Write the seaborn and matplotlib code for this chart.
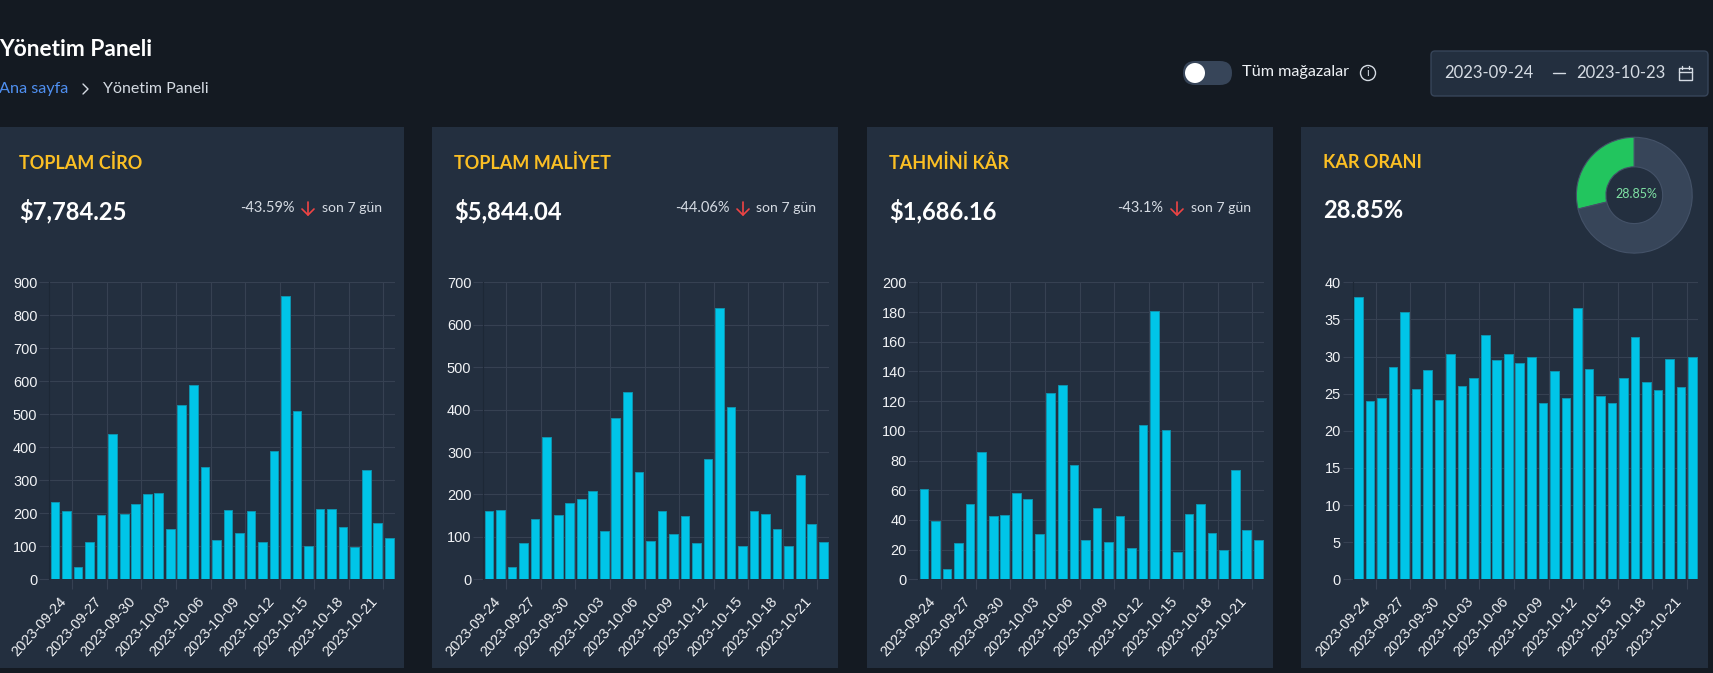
import numpy as np
import pandas as pd
import matplotlib
matplotlib.use("Agg")
import matplotlib.pyplot as plt
from matplotlib.patches import Rectangle, FancyBboxPatch, Circle
from matplotlib.transforms import ScaledTranslation
import seaborn as sns

dates = [str(d.date()) for d in pd.date_range("2023-09-24", "2023-10-23")]

ciro = [233, 208, 36, 114, 194, 441, 199, 229, 260, 263, 153, 527, 588, 340, 118,
        210, 139, 207, 114, 389, 860, 509, 101, 212, 212, 158, 98, 330, 170, 126]
maliyet = [160, 164, 28, 86, 141, 335, 151, 180, 190, 207, 113, 380, 441, 253, 90,
           160, 107, 150, 86, 284, 639, 407, 79, 161, 154, 119, 79, 246, 130, 89]
kar = [61, 39.3, 7, 24.7, 50.7, 86, 42.7, 43.3, 58, 54, 30.8, 125.3, 130.9, 76.8, 26.5,
       48, 25.4, 42.4, 20.9, 104, 180.7, 100.6, 18.6, 43.8, 50.5, 31.4, 20, 73.4, 33.4, 26.7]
oran = [38, 24, 24.4, 28.6, 36, 25.6, 28.2, 24.1, 30.4, 26, 27.1, 32.9, 29.6, 30.3, 29.1,
        30, 23.8, 28.1, 24.4, 36.5, 28.3, 24.7, 23.8, 27.1, 32.7, 26.6, 25.5, 29.7, 25.9, 30]

series = [ciro, maliyet, kar, oran]
titles = ["TOPLAM CİRO", "TOPLAM MALİYET", "TAHMİNİ KÂR", "KAR ORANI"]
totals = ["$7,784.25", "$5,844.04", "$1,686.16", "28.85%"]
changes = ["-43.59%", "-44.06%", "-43.1%", None]
y_tops = [900, 700, 200, 40]
y_steps = [100, 100, 20, 5]
donut_values = [28.85, 71.15]

# pixel layout of the dashboard
W, H = 1713, 673
card_x = [(-2, 404), (432, 838), (867, 1273), (1301, 1708)]
card_top, card_bottom = 127, 668
plot_left = [49.3, 483.3, 918.3, 1352.7]
plot_w = 345.7
plot_top, plot_bottom = 282.3, 579.3
text_x = [19, 454, 889, 1323]
change_x = [(240, 308, 322), (675, 743, 756), (1117, 1177, 1191)]

PAGE = "#141a22"
CARD = "#232f3f"
GRID = "#364152"
BAR = "#00c5e8"
BAR_EDGE = "#0e93ae"
SLATE = "#374559"
YELLOW = "#fbbf24"
LIGHT = "#d5dbe3"
TICK_TEXT = "#f0f2f5"
RED = "#ef4444"
UI_FONT = "Lato"
px = 0.72

sns.set_theme(style="dark", rc={"figure.facecolor": PAGE, "axes.facecolor": "none",
                                "xtick.bottom": True, "ytick.left": True})
plt.rcParams["font.family"] = ["Liberation Sans", "DejaVu Sans"]

fig = plt.figure(figsize=(W / 100, H / 100), dpi=100)
bg = fig.add_axes([0, 0, 1, 1])
bg.set_xlim(0, W)
bg.set_ylim(H, 0)
bg.axis("off")


def label(x, y, s, size, color="white", weight="normal", ha="left"):
    bg.text(x, y, s, fontsize=size * px, color=color, fontweight=weight, ha=ha, va="center",
            family=[UI_FONT, "DejaVu Sans"])


# header
label(-1, 49, "Yönetim Paneli", 22.8, weight="bold")
label(-1, 89, "Ana sayfa", 16.2, color="#4f8ff0")
bg.plot([83, 88, 83], [84, 89, 94], color=LIGHT, lw=1)
label(103, 89, "Yönetim Paneli", 16, color=LIGHT)

# store toggle
bg.add_patch(FancyBboxPatch((1183, 61), 49, 24, boxstyle="round,pad=0,rounding_size=12",
                            fc=SLATE, ec="none"))
bg.add_patch(Circle((1195, 73), 10, fc="white", ec="none"))
label(1242, 72, "Tüm mağazalar", 16.3, color="#eef1f5")
bg.add_patch(Circle((1368, 73), 7.5, fc="none", ec=LIGHT, lw=1))
label(1368, 73, "i", 11, color=LIGHT, ha="center")

# date range box
bg.add_patch(FancyBboxPatch((1431, 51), 277, 45, boxstyle="round,pad=0,rounding_size=4",
                            fc=CARD, ec=SLATE, lw=1))
label(1444, 73, "2023-09-24", 16.6, color=LIGHT)
bg.plot([1553, 1565], [73, 73], color=LIGHT, lw=1)
label(1576, 73, "2023-10-23", 16.6, color=LIGHT)
bg.add_patch(Rectangle((1679, 68), 13, 12, fc="none", ec=LIGHT, lw=1))
bg.plot([1679, 1692], [72, 72], color=LIGHT, lw=1)
bg.plot([1682, 1682], [66, 69], color=LIGHT, lw=1)
bg.plot([1689, 1689], [66, 69], color=LIGHT, lw=1)

for i, values in enumerate(series):
    x0, x1 = card_x[i]
    bg.add_patch(Rectangle((x0, card_top), x1 - x0, card_bottom - card_top, fc=CARD, ec="none"))
    label(text_x[i], 163, titles[i], 18, color=YELLOW, weight="bold")
    label(text_x[i], 211, totals[i], 23.7, weight="bold")
    if changes[i]:
        cx, ax_, sx = change_x[i]
        label(cx, 208, changes[i], 14.6, color=LIGHT)
        bg.plot([ax_, ax_], [202, 215], color=RED, lw=1.2)
        bg.plot([ax_ - 6, ax_, ax_ + 6], [209, 215, 209], color=RED, lw=1.2)
        label(sx, 208, "son 7 gün", 14, color=LIGHT)

    ax = fig.add_axes([plot_left[i] / W, 1 - plot_bottom / H, plot_w / W, (plot_bottom - plot_top) / H])
    df = pd.DataFrame({"date": dates, "value": values})
    sns.barplot(data=df, x="date", y="value", ax=ax, color=BAR, saturation=1, width=0.75,
                edgecolor=BAR_EDGE, linewidth=0.7, zorder=3)
    ax.set_xlim(-0.5, len(dates) - 0.5)
    ax.set_ylim(0, y_tops[i])
    ax.set_xlabel("")
    ax.set_ylabel("")
    ax.set_yticks(np.arange(0, y_tops[i] + 1, y_steps[i]))
    ax.set_xticks(np.arange(1.5, len(dates), 3))
    ax.set_xticklabels(dates[::3], rotation=48, ha="right", va="center", rotation_mode="anchor")
    ax.grid(True, color=GRID, lw=0.8)
    ax.set_axisbelow(True)
    ax.tick_params(axis="x", length=9.5 * px, width=0.8, color=GRID, pad=10 * px, labelsize=14.5 * px,
                   labelcolor=TICK_TEXT)
    ax.tick_params(axis="y", length=10 * px, width=0.8, color=GRID, pad=2 * px, labelsize=14.5 * px,
                   labelcolor=TICK_TEXT)
    offset = ScaledTranslation(-8 / 100, 0, fig.dpi_scale_trans)
    for tick in ax.get_xticklabels():
        tick.set_transform(tick.get_transform() + offset)
    for side in ["top", "right", "bottom"]:
        ax.spines[side].set_visible(False)
    ax.spines["left"].set_color("#1d2836")
    ax.spines["left"].set_linewidth(0.8)

# profit ratio donut
cx, cy, r = 1634.3, 195.2, 58.5
pie_ax = fig.add_axes([(cx - r) / W, 1 - (cy + r) / H, 2 * r / W, 2 * r / H])
pie_ax.pie(donut_values, colors=["#22c55e", SLATE], startangle=90, radius=1, counterclock=True,
           wedgeprops={"width": 0.51, "edgecolor": "#445268", "linewidth": 0.8})
pie_ax.set_xlim(-1.01, 1.01)
pie_ax.set_ylim(-1.01, 1.01)
pie_ax.text(0.03, 0.02, "28.85%", ha="center", va="center", fontsize=12.5 * px, color="#7fe3a5",
            family=[UI_FONT, "DejaVu Sans"])

fig.savefig("out.png", dpi=100, facecolor=PAGE)
